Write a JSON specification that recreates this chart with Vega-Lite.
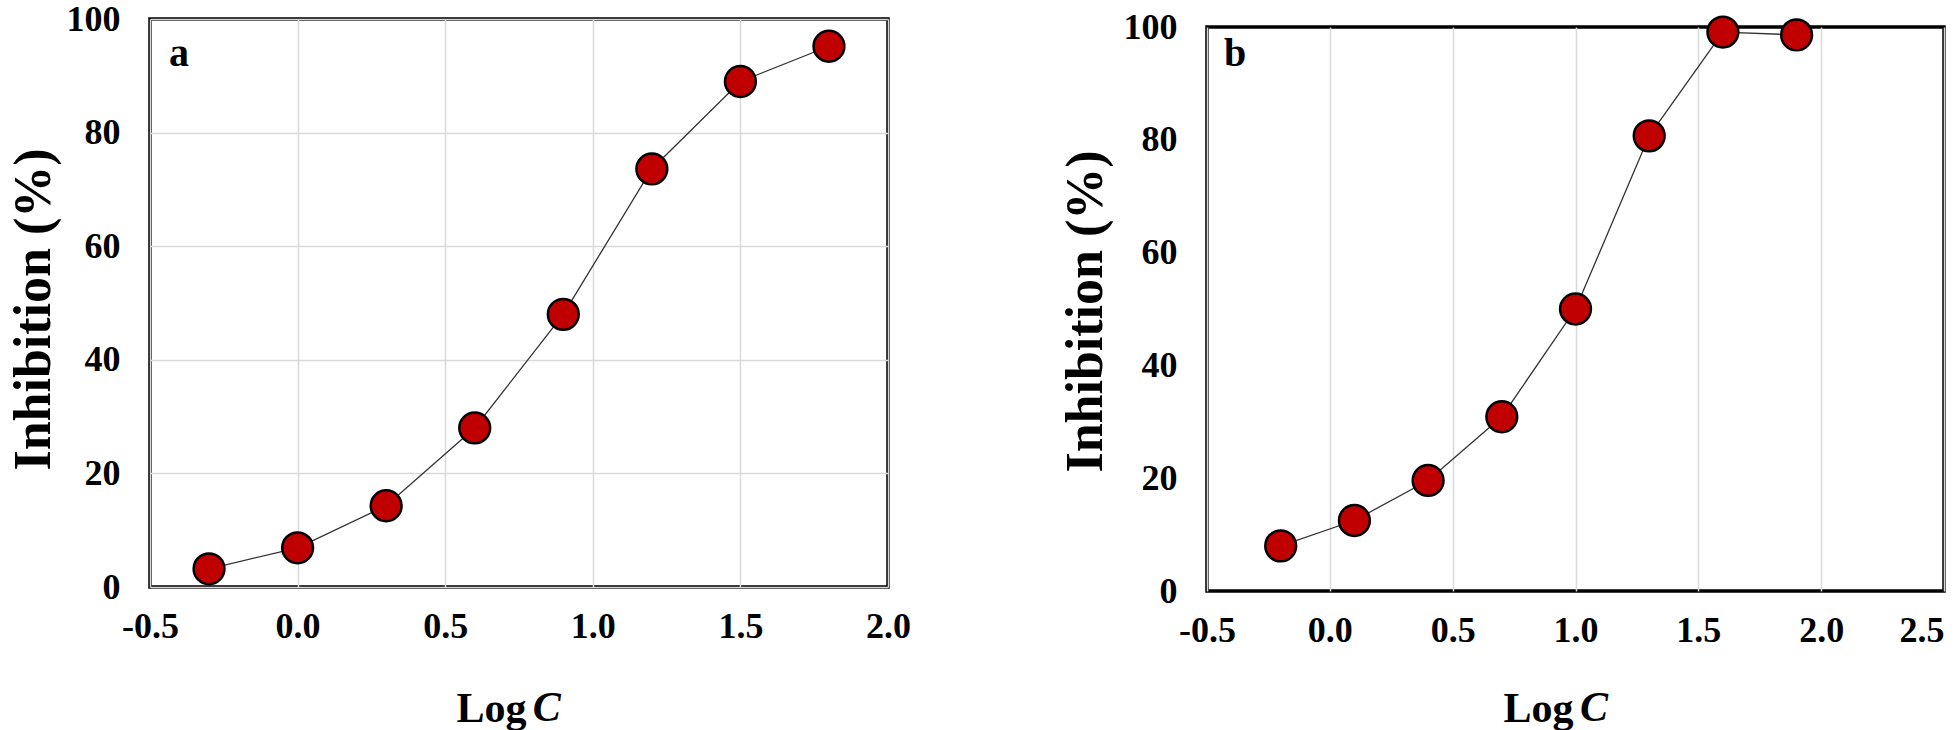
{
  "$schema": "https://vega.github.io/schema/vega-lite/v6.json",
  "padding": {"left": 5, "top": -1, "right": 0, "bottom": 0},
  "background": "white",
  "bounds": "flush",
  "spacing": 319,
  "datasets": {
    "a": [
      {"logC": -0.3, "inhibition": 3.2},
      {"logC": 0.0, "inhibition": 6.9},
      {"logC": 0.3, "inhibition": 14.3},
      {"logC": 0.6, "inhibition": 28.0},
      {"logC": 0.9, "inhibition": 48.0},
      {"logC": 1.2, "inhibition": 73.6},
      {"logC": 1.5, "inhibition": 89.0},
      {"logC": 1.8, "inhibition": 95.2}
    ],
    "b": [
      {"logC": -0.2, "inhibition": 8.0},
      {"logC": 0.1, "inhibition": 12.5},
      {"logC": 0.4, "inhibition": 19.6},
      {"logC": 0.7, "inhibition": 30.9},
      {"logC": 1.0, "inhibition": 50.0},
      {"logC": 1.3, "inhibition": 80.7},
      {"logC": 1.6, "inhibition": 99.1},
      {"logC": 1.9, "inhibition": 98.6}
    ]
  },
  "config": {
    "view": {"stroke": "#000", "strokeWidth": 3.5},
    "font": "Liberation Serif",
    "axis": {
      "labelFont": "Liberation Serif",
      "labelFontWeight": "bold",
      "labelFontSize": 36,
      "labelColor": "#000",
      "titleFont": "Liberation Serif",
      "titleFontWeight": "bold",
      "titleColor": "#000",
      "ticks": false,
      "domain": false,
      "gridColor": "#d9d9d9",
      "gridWidth": 1.5,
      "labelFlush": false,
      "labelOverlap": false
    }
  },
  "hconcat": [
    {
      "width": 738,
      "height": 568,
      "layer": [
        {
          "data": {"name": "a"},
          "mark": {"type": "line", "color": "#333", "strokeWidth": 1.3},
          "encoding": {
            "x": {
              "field": "logC", "type": "quantitative",
              "scale": {"domain": [-0.5, 2.0], "nice": false, "zero": false},
              "axis": {
                "values": [-0.5, 0, 0.5, 1, 1.5, 2],
                "labelExpr": "datum.value < 0 ? '-' + format(-datum.value, '.1f') : format(datum.value, '.1f')",
                "labelPadding": 22,
                "grid": true,
                "title": "Log",
                "titleFontSize": 42,
                "titleX": 306,
                "titleY": 134,
                "titleAlign": "left",
                "titleBaseline": "alphabetic"
              }
            },
            "y": {
              "field": "inhibition", "type": "quantitative",
              "scale": {"domain": [0, 100], "nice": false},
              "axis": {
                "values": [0, 20, 40, 60, 80, 100],
                "labelPadding": 30,
                "grid": true,
                "title": "Inhibition (%)",
                "titleFontSize": 52,
                "titleX": -117,
                "titleY": 290,
                "titleAngle": 270,
                "titleAlign": "center",
                "titleBaseline": "middle"
              }
            }
          }
        },
        {
          "data": {"name": "a"},
          "mark": {"type": "circle", "fill": "#c00000", "stroke": "#000", "strokeWidth": 2.5, "size": 950, "opacity": 1},
          "encoding": {
            "x": {"field": "logC", "type": "quantitative"},
            "y": {"field": "inhibition", "type": "quantitative"}
          }
        },
        {
          "data": {"values": [{}]},
          "mark": {"type": "text", "text": "a", "font": "Liberation Serif", "fontWeight": "bold", "fontSize": 40, "align": "left", "baseline": "alphabetic", "color": "#000"},
          "encoding": {"x": {"datum": -0.436}, "y": {"datum": 91.7}}
        },
        {
          "data": {"values": [{}]},
          "mark": {"type": "text", "text": "C", "font": "Liberation Serif", "fontWeight": "bold", "fontStyle": "italic", "fontSize": 42, "align": "left", "baseline": "alphabetic", "color": "#000"},
          "encoding": {"x": {"datum": 0.797}, "y": {"datum": -23.6}}
        }
      ]
    },
    {
      "bounds": "flush",
      "spacing": 7,
      "vconcat": [
        {
          "width": 737,
          "height": 1,
          "view": {"stroke": null},
          "data": {"values": [{}]},
          "mark": {"type": "point", "opacity": 0},
          "encoding": {}
        },
        {
          "width": 737,
          "height": 564,
          "layer": [
            {
              "data": {"name": "b"},
              "mark": {"type": "line", "color": "#333", "strokeWidth": 1.3},
              "encoding": {
                "x": {
                  "field": "logC", "type": "quantitative",
                  "scale": {"domain": [-0.5, 2.5], "nice": false, "zero": false},
                  "axis": {
                    "values": [-0.5, 0, 0.5, 1, 1.5, 2, 2.5],
                    "labelExpr": "datum.value < 0 ? '-' + format(-datum.value, '.1f') : format(datum.value, '.1f')",
                    "labelAlign": {"expr": "datum.value == 2.5 ? 'right' : 'center'"},
                    "labelDx": {"expr": "datum.value == 2.5 ? 17 : 0"},
                    "labelPadding": 22,
                    "grid": true,
                    "title": "Log",
                    "titleFontSize": 42,
                    "titleX": 296,
                    "titleY": 130,
                    "titleAlign": "left",
                    "titleBaseline": "alphabetic"
                  }
                },
                "y": {
                  "field": "inhibition", "type": "quantitative",
                  "scale": {"domain": [0, 100], "nice": false},
                  "axis": {
                    "values": [0, 20, 40, 60, 80, 100],
                    "labelPadding": 30,
                    "grid": false,
                    "title": "Inhibition (%)",
                    "titleFontSize": 52,
                    "titleX": -122,
                    "titleY": 284,
                    "titleAngle": 270,
                    "titleAlign": "center",
                    "titleBaseline": "middle"
                  }
                }
              }
            },
            {
              "data": {"name": "b"},
              "mark": {"type": "circle", "fill": "#c00000", "stroke": "#000", "strokeWidth": 2.5, "size": 950, "opacity": 1},
              "encoding": {
                "x": {"field": "logC", "type": "quantitative"},
                "y": {"field": "inhibition", "type": "quantitative"}
              }
            },
            {
              "data": {"values": [{}]},
              "mark": {"type": "text", "text": "b", "font": "Liberation Serif", "fontWeight": "bold", "fontSize": 40, "align": "left", "baseline": "alphabetic", "color": "#000"},
              "encoding": {"x": {"datum": -0.431}, "y": {"datum": 93.1}}
            },
            {
              "data": {"values": [{}]},
              "mark": {"type": "text", "text": "C", "font": "Liberation Serif", "fontWeight": "bold", "fontStyle": "italic", "fontSize": 42, "align": "left", "baseline": "alphabetic", "color": "#000"},
              "encoding": {"x": {"datum": 1.018}, "y": {"datum": -23.0}}
            }
          ]
        }
      ]
    }
  ]
}
